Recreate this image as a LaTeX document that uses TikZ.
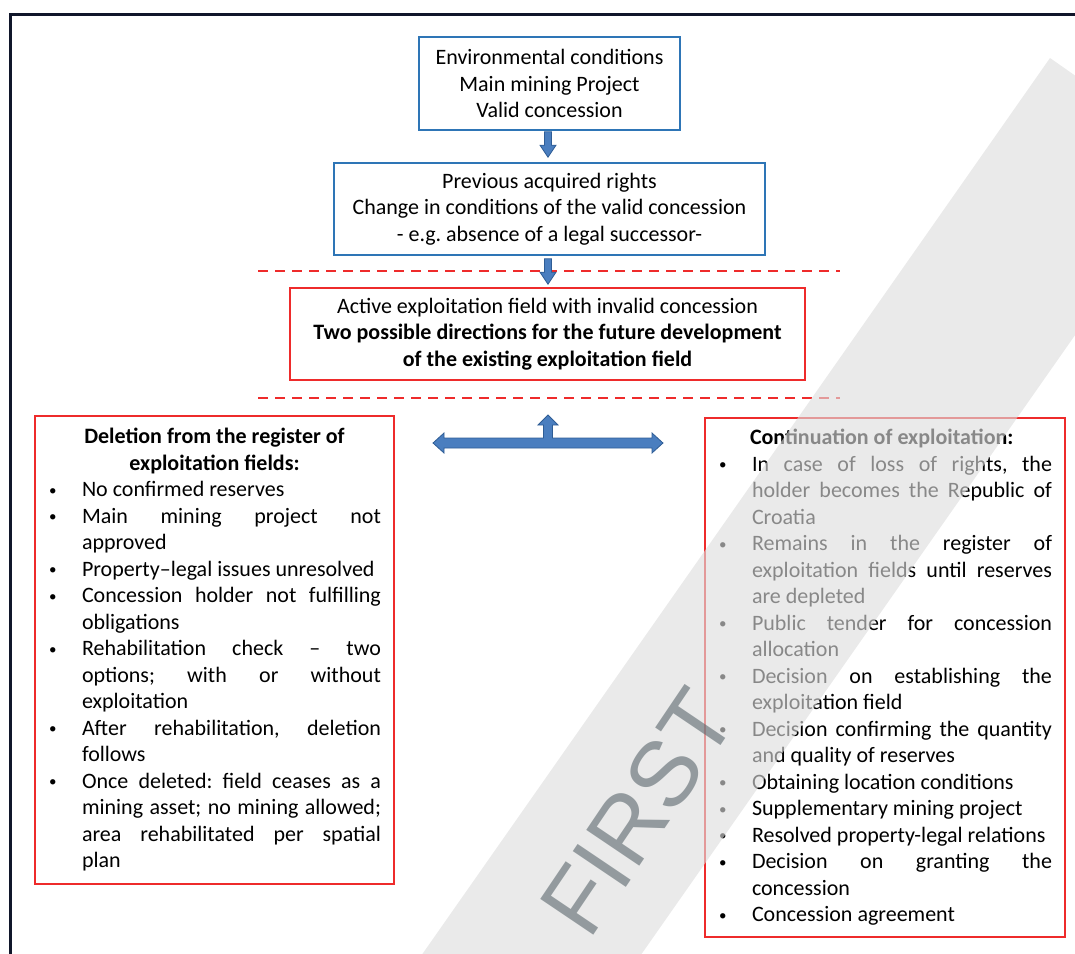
\documentclass[tikz,border=0pt]{standalone}
\usepackage{fontspec}
\setmainfont{Carlito}
\newfontfamily\markfont{Liberation Sans}
\usepackage{xcolor}
\usepackage{tikz}
\usetikzlibrary{calc}
\definecolor{boxblue}{HTML}{2E75B6}
\definecolor{boxred}{HTML}{EE2B2B}
\definecolor{arrowfill}{HTML}{4A7EBF}
\definecolor{arrowedge}{HTML}{2F5D95}
\definecolor{framec}{HTML}{10162A}
\definecolor{markband}{HTML}{DDDDDD}
\definecolor{markletter}{HTML}{5A666C}
\hyphenpenalty=10000
\exhyphenpenalty=10000
\hbadness=10000
\frenchspacing
\tikzset{
  bluebox/.style={draw=boxblue, line width=1.6pt, align=center, inner sep=0pt},
  redbox/.style={draw=boxred, line width=1.6pt, align=center, inner sep=0pt},
  listbox/.style={draw=boxred, line width=1.6pt, align=justify, inner xsep=13pt, inner ysep=0pt},
  cutline/.style={draw=boxred, line width=1.4pt, dash pattern=on 10pt off 7pt},
  blockarrow/.style={fill=arrowfill, draw=arrowedge, line width=0.8pt, line join=miter},
  txt/.style={font=\fontsize{22}{26.5}\selectfont}
}
\newcommand{\ListItem}[1]{%
  % bullet, then text with a hanging indent
  \par\noindent\hangindent=34pt\hangafter=1%
  \makebox[34pt][l]{\hspace{1pt}\raisebox{1.5pt}{\fontsize{15}{15}\selectfont\textbullet}}\ignorespaces#1\par}
\newcommand{\DownArrow}[2]{%
  % #1 = top of the shaft, #2 = tip
  \draw[blockarrow] ($(#1)+(-3.5,0)$) -- ($(#2)+(-3.5,-12)$) -- ($(#2)+(-8,-12)$) -- (#2)
    -- ($(#2)+(8,-12)$) -- ($(#2)+(3.5,-12)$) -- ($(#1)+(3.5,0)$) -- cycle;}

\begin{document}
\begin{tikzpicture}[x=1pt, y=-1pt, line cap=butt]
  \useasboundingbox (0,0) rectangle (1075,953);
  \clip (0,0) rectangle (1075,953);
  \draw[line width=3pt, draw=framec] (10,970) -- (10,14) -- (1090,14);
  % top chain
  \node[bluebox, txt, minimum width=261pt, minimum height=93pt] (box-env) at (549.5,83.5)
    {Environmental conditions\\Main mining Project\\Valid concession};
  \node[bluebox, txt, minimum width=431pt, minimum height=92pt] (box-prev) at (549.5,209)
    {Previous acquired rights\\Change in conditions of the valid concession\\- e.g. absence of a legal successor-};
  \node[redbox, txt, minimum width=515pt, minimum height=92pt] (box-active) at (547.5,334)
    {Active exploitation field with invalid concession\\\textbf{Two possible directions for the future development}\\\textbf{of the existing exploitation field}};
  \coordinate (a1-top) at ($(box-env.south)+(-1.5,1)$);
  \coordinate (a1-tip) at ($(box-prev.north)+(-1.5,-5)$);
  \coordinate (a2-top) at ($(box-prev.south)+(-1.5,3)$);
  \coordinate (a2-tip) at ($(box-active.north)+(0.5,-3)$);
  \DownArrow{a1-top}{a1-tip}
  \draw[cutline] (258,271) -- (840,271);
  \draw[cutline] (258,398) -- (840,398);
  \DownArrow{a2-top}{a2-tip}
  % two directions
  \coordinate (fork) at (548,443);
  \draw[blockarrow] ($(fork)+(-115,0)$) -- ++(11,-10) -- ++(0,5) -- ($(fork)+(-4.5,-5)$)
    -- ++(0,-13) -- ++(-5.5,0) -- ($(fork)+(0,-28)$) -- ($(fork)+(10,-18)$) -- ++(-5.5,0)
    -- ($(fork)+(4.5,-5)$) -- ($(fork)+(104,-5)$) -- ++(0,-5) -- ($(fork)+(115,0)$)
    -- ($(fork)+(104,10)$) -- ++(0,-5) -- ($(fork)+(-104,5)$) -- ++(0,5) -- cycle;
  \node[listbox, txt, text width=333pt, minimum height=468pt] (box-del) at (214.5,650) {%
    \tolerance=10000
    {\centering\bfseries Deletion from the register of\\exploitation fields:\par}
    \ListItem{No confirmed reserves}
    \ListItem{Main mining project not\linebreak approved}
    \ListItem{Property--legal issues unresolved}
    \ListItem{Concession holder not fulfilling\linebreak obligations}
    \ListItem{Rehabilitation check -- two\linebreak options; with or without\linebreak exploitation}
    \ListItem{After rehabilitation, deletion\linebreak follows}
    \ListItem{Once deleted: field ceases as a\linebreak mining asset; no mining allowed;\linebreak area rehabilitated per spatial\linebreak plan}};
  \node[listbox, txt, text width=334pt, minimum height=519pt] (box-cont) at (885,677.5) {%
    \tolerance=10000
    \noindent\hspace*{32pt}\textbf{Continuation of exploitation:}\par
    \ListItem{In case of loss of rights, the\linebreak holder becomes the Republic of\linebreak Croatia}
    \ListItem{Remains in the register of\linebreak exploitation fields until reserves\linebreak are depleted}
    \ListItem{Public tender for concession\linebreak allocation}
    \ListItem{Decision on establishing the\linebreak exploitation field}
    \ListItem{Decision confirming the quantity\linebreak and quality of reserves}
    \ListItem{Obtaining location conditions}
    \ListItem{Supplementary mining project}
    \ListItem{Resolved property-legal relations}
    \ListItem{Decision on granting the\linebreak concession}
    \ListItem{Concession agreement}};
  % watermark
  \fill[markband, opacity=0.62] (1050,58) -- (1197,161) -- (451,1226) -- (304,1123) -- cycle;
  \node[font=\markfont\fontsize{93}{93}\selectfont, text=markletter, text opacity=0.6, rotate=56] (mark) at (638,812) {FIRST};
\end{tikzpicture}
\end{document}
